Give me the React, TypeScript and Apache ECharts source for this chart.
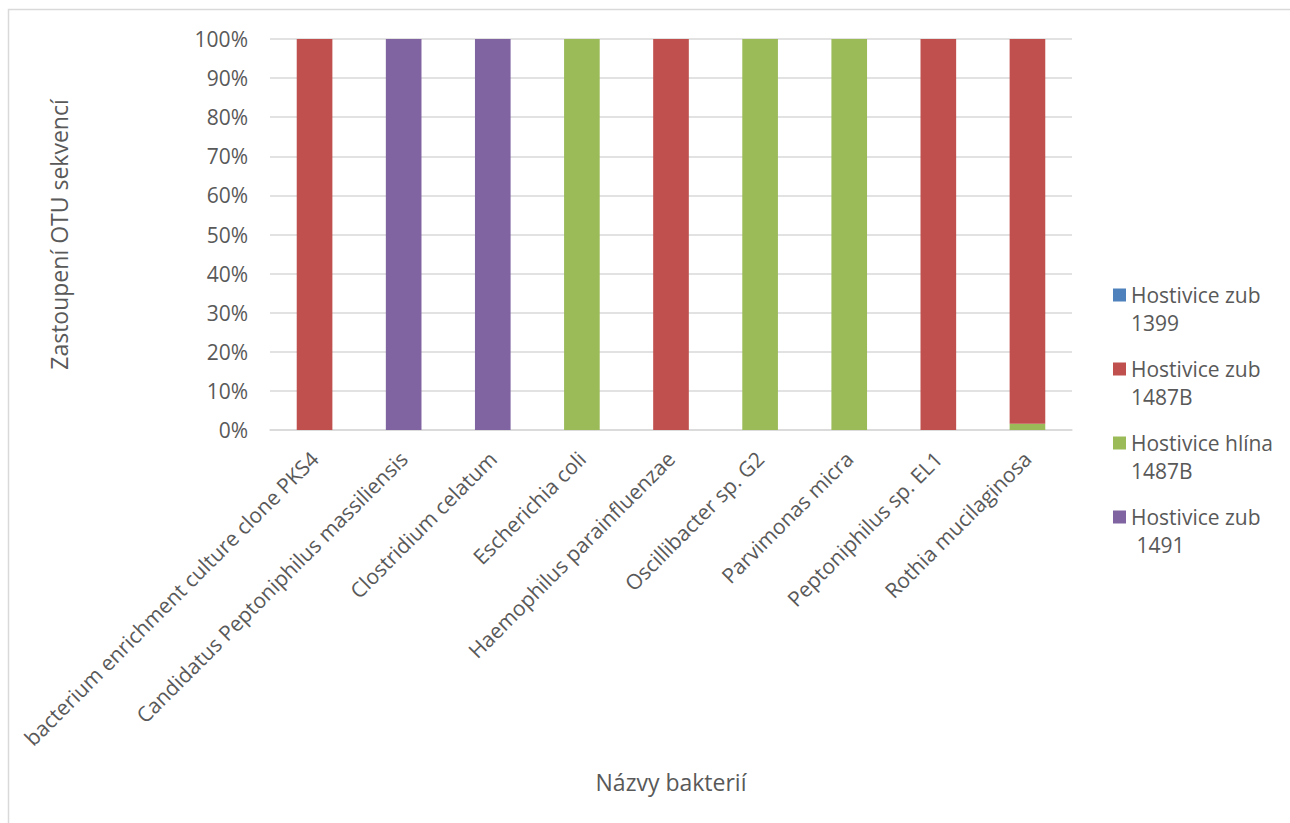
import React, { useEffect, useRef } from "react";
import * as echarts from "echarts";

const categories = [
  "bacterium enrichment culture clone PKS4",
  "Candidatus Peptoniphilus massiliensis",
  "Clostridium celatum",
  "Escherichia coli",
  "Haemophilus parainfluenzae",
  "Oscillibacter sp. G2",
  "Parvimonas micra",
  "Peptoniphilus sp. EL1",
  "Rothia mucilaginosa",
];

const seriesNames = [
  "Hostivice zub 1399",
  "Hostivice zub 1487B",
  "Hostivice hlína 1487B",
  "Hostivice zub 1491",
];
const legendLabels = [
  "Hostivice zub\n1399",
  "Hostivice zub\n1487B",
  "Hostivice hlína\n1487B",
  "Hostivice zub\n 1491",
];
const seriesColors = ["#4F81BD", "#C0504D", "#9BBB59", "#8064A2"];

const zub1399 = [0, 0, 0, 0, 0, 0, 0, 0, 0];
const zub1487B = [100, 0, 0, 0, 100, 0, 0, 100, 98.4];
const hlina1487B = [0, 0, 0, 100, 0, 100, 100, 0, 1.6];
const zub1491 = [0, 100, 100, 0, 0, 0, 0, 0, 0];

const yTicks = [0, 10, 20, 30, 40, 50, 60, 70, 80, 90, 100];

const FONT = "'Open Sans', sans-serif";
const TEXT = "#595959";
const GRID = "#d9d9d9";

const legendIcon =
  "path://M0,0h0.01v0.01h-0.01z M0,7.5h13v13h-13z M0,56h0.01v0.01h-0.01z";

export default function App() {
  const ref = useRef<HTMLDivElement>(null);
  useEffect(() => {
    if (!ref.current) return;
    const chart = echarts.init(ref.current, undefined, { renderer: "svg" });
    const dataByName: Record<string, number[]> = {
      [seriesNames[0]]: zub1399,
      [seriesNames[1]]: zub1487B,
      [seriesNames[2]]: hlina1487B,
      [seriesNames[3]]: zub1491,
    };
    // stack order: green at the bottom (as in the reference)
    const stackOrder = [0, 2, 1, 3];
    chart.setOption({
      animation: false,
      backgroundColor: "#ffffff",
      textStyle: { fontFamily: FONT },
      graphic: [
        {
          type: "rect",
          shape: { x: 8.5, y: 9.5, width: 1400, height: 900 },
          style: { fill: "none", stroke: GRID, lineWidth: 1.5 },
          silent: true,
        },
      ],
      grid: { left: 270, right: 218, top: 39, bottom: 393, containLabel: false },
      legend: {
        orient: "vertical",
        left: 1113,
        top: 281,
        padding: 0,
        itemGap: 18,
        itemWidth: 13,
        itemHeight: 56,
        icon: legendIcon,
        data: seriesNames,
        formatter: (name: string) => legendLabels[seriesNames.indexOf(name)],
        textStyle: { color: TEXT, fontSize: 21, lineHeight: 28, fontFamily: FONT },
        selectedMode: false,
      },
      xAxis: {
        type: "category",
        data: categories,
        name: "Názvy bakterií",
        nameLocation: "middle",
        nameGap: 340,
        nameTextStyle: { color: TEXT, fontSize: 23, fontFamily: FONT, verticalAlign: "top" },
        axisLine: { lineStyle: { color: GRID, width: 1.5 } },
        axisTick: { show: false },
        axisLabel: {
          interval: 0,
          rotate: 45,
          margin: 25,
          color: TEXT,
          fontSize: 21,
          fontFamily: FONT,
        },
      },
      yAxis: {
        type: "value",
        min: 0,
        max: 100,
        interval: 10,
        name: "Zastoupení OTU sekvencí",
        nameLocation: "middle",
        nameGap: 200,
        nameTextStyle: { color: TEXT, fontSize: 23, fontFamily: FONT },
        axisLine: { show: false },
        axisTick: { show: false },
        splitLine: { lineStyle: { color: GRID, width: 1.5 } },
        axisLabel: {
          margin: 22,
          color: TEXT,
          fontSize: 21,
          fontFamily: FONT,
          formatter: (v: number) => (yTicks.includes(v) ? `${v}%` : ""),
        },
      },
      series: stackOrder.map((i) => ({
        name: seriesNames[i],
        type: "bar",
        stack: "total",
        barWidth: "40%",
        data: dataByName[seriesNames[i]],
        itemStyle: { color: seriesColors[i] },
      })),
    });
    return () => chart.dispose();
  }, []);
  return (
    <div
      ref={ref}
      style={{ position: "absolute", left: 0, top: 0, width: 1290, height: 823 }}
    />
  );
}
